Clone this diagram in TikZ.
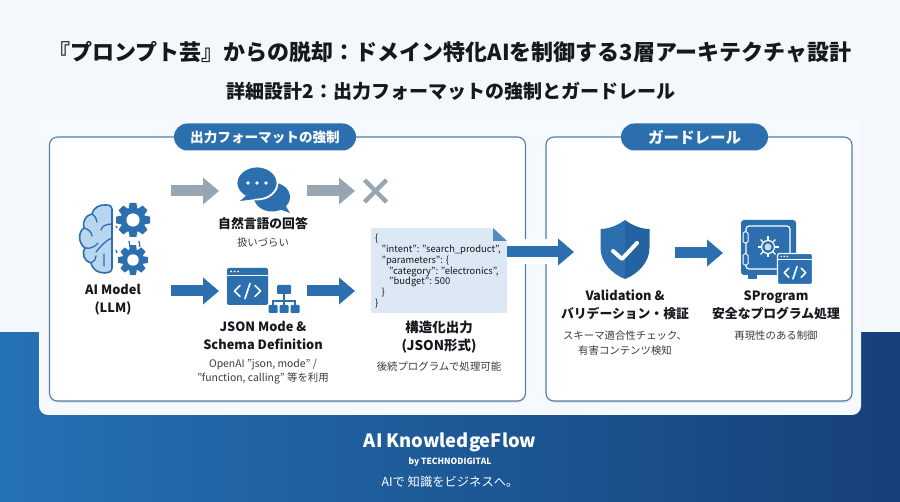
\documentclass[tikz,border=0pt]{standalone}
\usepackage{fontspec}
\setmainfont{Noto Sans CJK JP}
\usetikzlibrary{positioning, calc, arrows.meta, shadows}

\definecolor{iconblue}{HTML}{2B6FAE}
\definecolor{darkblue}{HTML}{2463A1}
\definecolor{lightbrain}{HTML}{B9D6F0}
\definecolor{edgeblue}{HTML}{4F7EA6}
\definecolor{arrowgray}{HTML}{98A5B2}
\definecolor{docblue}{HTML}{DCE8F4}
\definecolor{pagebg}{HTML}{F4F7FC}
\definecolor{cardbg}{HTML}{F6F9FD}
\definecolor{inkblack}{HTML}{15181C}
\definecolor{footleft}{HTML}{2472B4}
\definecolor{footright}{HTML}{17407A}

\tikzset{
  x=1pt, y=-1pt,
  panelbox/.style={draw=edgeblue, line width=1.1pt, fill=white, rounded corners=8pt,
    drop shadow={opacity=.16, shadow xshift=0pt, shadow yshift=-2pt}},
  pillbox/.style={fill=iconblue, rounded corners=13.5pt},
  holder/.style={inner sep=0pt, outer sep=0pt, minimum width=#1},
  bluearrow/.style={draw=iconblue, line width=11pt, -{Triangle[length=16pt, width=26pt]}},
  grayarrow/.style={draw=arrowgray, line width=11pt, -{Triangle[length=16pt, width=26pt]}},
  head/.style={font=\bfseries\fontsize{12.8}{18}\selectfont, align=center, text=inkblack, inner sep=0pt},
  note/.style={font=\fontsize{10.4}{14.2}\selectfont, align=center, text=inkblack!85, inner sep=0pt},
  pilltext/.style={text=white, inner sep=0pt},
  gear/.pic={
    \foreach \a in {0,45,...,315}
      \fill[iconblue, rotate=\a] (-3.4,-17) -- (3.4,-17) -- (4.6,-10) -- (-4.6,-10) -- cycle;
    \fill[iconblue] (0,0) circle (12.5);
    \fill[white] (0,0) circle (6.6);
  },
  codewin/.pic={
    \fill[iconblue, rounded corners=2pt] (-20.5,-18.5) rectangle (20.5,18.5);
    \draw[white, line width=.9pt] (-20.5,-11) -- (20.5,-11);
    \foreach \k in {-16.5,-13,-9.5} \fill[white] (\k,-15) circle (1);
    \draw[white, line width=1.6pt, line cap=round, line join=round]
      (-7.5,-1) -- (-13,4.5) -- (-7.5,10) (7.5,-1) -- (13,4.5) -- (7.5,10) (2.5,-3) -- (-2.5,12);
  },
}

\begin{document}
\begin{tikzpicture}
  \useasboundingbox (0,0) rectangle (900,502);
  \fill[pagebg] (0,0) rectangle (900,502);
  \shade[left color=footleft, right color=footright] (0,333) rectangle (900,502);
  \fill[cardbg, rounded corners=9pt] (39,118) rectangle (861,415);

  \node (title) [font=\bfseries\fontsize{22}{26}\selectfont, text=inkblack, inner sep=0pt] at (450,52) {『プロンプト芸』からの脱却\char"FF1A\relax ドメイン特化AIを制御する3層アーキテクチャ設計};
  \node (subtitle) [font=\bfseries\fontsize{19}{24}\selectfont, text=inkblack, inner sep=0pt] at (451,91) {詳細設計2\char"FF1A\relax 出力フォーマットの強制とガードレール};

  \node (leftpanel) [panelbox, minimum width=476pt, minimum height=264pt] at (287.5,269) {};
  \node (rightpanel) [panelbox, minimum width=306pt, minimum height=264pt] at (699,269) {};
  \node (leftpill) [pillbox, minimum width=182pt, minimum height=27pt] at (265,137) {};
  \node (rightpill) [pillbox, minimum width=147pt, minimum height=27pt] at (694.5,137) {};
  \node [pilltext, font=\bfseries\fontsize{13.6}{18}\selectfont] at (leftpill) {出力フォーマットの強制};
  \node [pilltext, font=\bfseries\fontsize{15.5}{18}\selectfont] at (rightpill) {ガードレール};

  % holders for the icons
  \node (brain) [holder=80pt] at (113,238) {};
  \node (chat) [holder=88pt] at (263,191) {};
  \node (cross) [holder=26pt] at (375.5,191) {};
  \node (win) [holder=88pt] at (263,291) {};
  \node (doc) [holder=136pt, minimum height=85pt] at (439,270.5) {};
  \node (shield) [holder=100pt] at (625,253) {};
  \node (safe) [holder=106pt] at (776,253) {};

  % brain
  \draw[iconblue, fill=lightbrain, line width=1.6pt, line join=round]
    (112,209) -- (112,268) .. controls (112,272) and (108,273) .. (105,273)
    .. controls (98,273) and (93,270) .. (91,263) .. controls (85,262) and (81,254) .. (85,248)
    .. controls (78,243) and (78,232) .. (84,228) .. controls (82,220) and (87,215) .. (92,214)
    .. controls (93,208) and (100,204) .. (106,205) .. controls (110,205) and (112,206) .. (112,209);
  \draw[iconblue, line width=1.3pt, line cap=round]
    (92,214) .. controls (95,216) and (97,219) .. (97,222)
    (84,228) .. controls (88,229) and (92,232) .. (92,236) (112,224) .. controls (106,224) and (102,226) .. (101,230)
    (85,248) .. controls (90,249) and (95,247) .. (98,243) (112,238) .. controls (106,240) and (100,247) .. (96,252)
    (91,263) .. controls (94,262) and (96,259) .. (96,256) (104,254) -- (104,266);
  \pic at (133,220) {gear};
  \pic [scale=.87] at (133,260) {gear};
  \draw[iconblue, line width=1.3pt] (116,226) -- (117,228) (129,241) -- (130,247) (139,241) -- (140,247) (116,250) -- (117,253);

  % chat bubbles
  \fill[iconblue] (272,197) ellipse (18 and 14.5);
  \fill[iconblue] (268,205) -- (290,213) -- (282,200) -- cycle;
  \fill[iconblue, draw=white, line width=1.8pt] (257,183) ellipse (20.5 and 16.5);
  \fill[iconblue] (248,194) -- (240,201) -- (256,199) -- cycle;
  \foreach \k in {248,257,266} \fill[white] (\k,183) circle (1.9);

  % cross
  \draw[arrowgray, line width=4.5pt] ($(cross)+(-11,-11)$) -- ($(cross)+(11,11)$) ($(cross)+(11,-11)$) -- ($(cross)+(-11,11)$);

  % code window and tree
  \pic at (247.5,286.5) {codewin};
  \fill[iconblue, rounded corners=1pt] (277,285) rectangle (291,294);
  \draw[iconblue, line width=1.6pt] (284,294) -- (284,307) (273,307) -- (273,301) -- (295,301) -- (295,307);
  \foreach \k in {273,284,295} \fill[iconblue, rounded corners=1pt] (\k-4.5,305) rectangle (\k+4.5,313);

  % document
  \fill[docblue, rounded corners=2pt] (doc.north west) -- ($(doc.north east)+(-14,0)$) -- ($(doc.north east)+(0,13)$) -- (doc.south east) -- (doc.south west) -- cycle;
  \fill[iconblue!80!white] ($(doc.north east)+(-14,0)$) -- ($(doc.north east)+(0,13)$) -- ($(doc.north east)+(-14,13)$) -- cycle;
  \node (json) [font=\fontsize{9.4}{10.8}\selectfont, text=inkblack, align=left, inner sep=0pt, anchor=north west] at (375,234)
    {\{\\\hspace*{6.5pt}"intent": "search\_product",\\\hspace*{6.5pt}"parameters": \{\\\hspace*{14pt}"category": "electronics",\\\hspace*{14pt}"budget": 500\\\hspace*{6.5pt}\}\\\}};

  % shield
  \fill[iconblue] (625,220) .. controls (617,226) and (608,229) .. (600.5,229) -- (600.5,248) .. controls (600.5,262) and (612,274) .. (625,279) -- cycle;
  \fill[darkblue] (625,220) .. controls (633,226) and (642,229) .. (649.5,229) -- (649.5,248) .. controls (649.5,262) and (638,274) .. (625,279) -- cycle;
  \draw[white, line width=4pt, line cap=round, line join=round] (613,251) -- (622,259) -- (637,243);

  % safe
  \fill[iconblue, rounded corners=3pt] (741,220) rectangle (796,275);
  \fill[iconblue] (748,274) rectangle (757,279);
  \draw[white, line width=1.2pt, rounded corners=3pt] (746,226) rectangle (790,269);
  \fill[iconblue, draw=white, line width=1pt, rounded corners=1.5pt] (743,232) rectangle (748,243);
  \fill[iconblue, draw=white, line width=1pt, rounded corners=1.5pt] (743,254) rectangle (748,265);
  \draw[white, line width=1.2pt] (768,247) circle (6.5);
  \fill[white!75!iconblue] (768,247) circle (3.5);
  \foreach \a in {0,45,...,315} \draw[white, line width=1.2pt, rotate around={\a:(768,247)}] (768,240.5) -- (768,236.5);
  \pic [scale=.83] at (795,269) {codewin};
  \draw[white, line width=1.2pt, rounded corners=2pt] (777.5,253.5) rectangle (812.5,284.5);

  % connectors
  \draw[grayarrow] ($(brain)+(58,-47)$) -- ($(chat)+(-44,0)$);
  \draw[grayarrow] ($(chat)+(44,0)$) -- ($(cross)+(-20.5,0)$);
  \draw[bluearrow] ($(brain)+(58,53)$) -- ($(win)+(-44,0)$);
  \draw[bluearrow] ($(win)+(44,0)$) -- ($(doc.west)+(-16,20.5)$);
  \draw[white!60!cardbg, line width=25pt] (524,252) -- (547,252);
  \draw[bluearrow] ($(doc.east)+(0,-18.5)$) -- ($(shield)+(-51,-1)$);
  \draw[bluearrow] ($(shield)+(50,0)$) -- ($(safe)+(-53,0)$);

  % labels
  \node (brainlabel) [head] at (113,300) {AI Model\\(LLM)};
  \node (chatlabel) [head] at (263,224) {自然言語の回答};
  \node (chatnote) [note] at (263,243) {扱いづらい};
  \node (winlabel) [head] at (263,335) {JSON Mode \&\\Schema Definition};
  \node (winnote) [note] at (263,372) {OpenAI "json, mode" /\\"function, calling" 等を利用};
  \node (doclabel) [head, font=\bfseries\fontsize{13.5}{18}\selectfont] at (439,337) {構造化出力\\(JSON形式)};
  \node (docnote) [note] at (439,367) {後続プログラムで処理可能};
  \node (shieldlabel) [head] at (625,305) {Validation \&\\バリデーション・検証};
  \node (shieldnote) [note] at (625,343) {スキーマ適合性チェック、\\有害コンテンツ検知};
  \node (safelabel) [head] at (776,305) {SProgram\\安全なプログラム処理};
  \node (safenote) [note] at (776,336) {再現性のある制御};

  % footer
  \node (brand) [font=\bfseries\fontsize{18.4}{22}\selectfont, text=white, inner sep=0pt] at (450,442) {AI KnowledgeFlow};
  \node (byline) [font=\bfseries\fontsize{8.5}{10}\selectfont, text=white, inner sep=0pt] at (450,462) {by TECHNODIGITAL};
  \node (slogan) [font=\fontsize{12.3}{14}\selectfont, text=white, inner sep=0pt] at (450,482) {AIで 知識をビジネスへ。};
\end{tikzpicture}
\end{document}
